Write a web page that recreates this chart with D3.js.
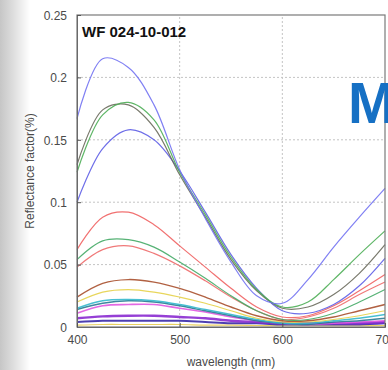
<!DOCTYPE html>
<html>
<head>
<meta charset="utf-8">
<script src="https://cdn.jsdelivr.net/npm/d3@7"></script>
<style>
  body { margin: 0; background: #fff; }
  text { font-family: "Liberation Sans", Arial, sans-serif; }
</style>
</head>
<body>
<div id="vis"></div>
<script>
const W = 388, H = 370;
const margin = { top: 15, right: 3, bottom: 43, left: 77 };

// wavelength samples (nm)
const wavelengths = [400, 425, 450, 475, 500, 525, 550, 575, 600, 625, 650, 675, 700];

// reflectance
const blue1   = [0.167, 0.215, 0.208, 0.178, 0.126, 0.087, 0.052, 0.025, 0.019, 0.038, 0.064, 0.088, 0.111];
const green1  = [0.124, 0.170, 0.180, 0.166, 0.124, 0.090, 0.056, 0.030, 0.016, 0.020, 0.038, 0.058, 0.077];
const gray1   = [0.130, 0.174, 0.178, 0.160, 0.122, 0.088, 0.054, 0.029, 0.015, 0.016, 0.026, 0.043, 0.066];
const blue2   = [0.100, 0.143, 0.158, 0.150, 0.125, 0.092, 0.058, 0.031, 0.013, 0.011, 0.018, 0.033, 0.055];
const red1    = [0.062, 0.088, 0.092, 0.082, 0.065, 0.048, 0.031, 0.016, 0.008, 0.009, 0.017, 0.029, 0.042];
const green2  = [0.054, 0.069, 0.070, 0.064, 0.052, 0.039, 0.025, 0.013, 0.006, 0.006, 0.011, 0.020, 0.030];
const red2    = [0.048, 0.062, 0.065, 0.059, 0.049, 0.037, 0.024, 0.013, 0.006, 0.008, 0.015, 0.026, 0.036];
const brown   = [0.024, 0.035, 0.038, 0.036, 0.031, 0.024, 0.016, 0.009, 0.005, 0.005, 0.008, 0.013, 0.018];
const yellow  = [0.020, 0.028, 0.030, 0.028, 0.024, 0.019, 0.013, 0.007, 0.004, 0.004, 0.006, 0.009, 0.013];
const cyan    = [0.015, 0.021, 0.022, 0.021, 0.018, 0.014, 0.010, 0.006, 0.003, 0.003, 0.005, 0.007, 0.010];
const teal    = [0.014, 0.019, 0.021, 0.020, 0.017, 0.013, 0.009, 0.005, 0.003, 0.002, 0.004, 0.005, 0.007];
const magenta = [0.011, 0.017, 0.018, 0.018, 0.015, 0.012, 0.008, 0.005, 0.003, 0.002, 0.003, 0.004, 0.005];
const purple  = [0.007, 0.0085, 0.009, 0.009, 0.008, 0.007, 0.005, 0.004, 0.003, 0.003, 0.003, 0.003, 0.004];
const indigo  = [0.004, 0.005, 0.005, 0.005, 0.005, 0.004, 0.003, 0.003, 0.002, 0.002, 0.002, 0.002, 0.003];
const pale    = [0.0015, 0.002, 0.002, 0.002, 0.002, 0.0015, 0.0015, 0.0012, 0.001, 0.001, 0.001, 0.001, 0.0012];

const series = [pale, indigo, purple, magenta, teal, cyan, yellow, brown, red2, green2, red1, blue2, gray1, green1, blue1];
const colors = ["#e8cc50", "#3a2aa8", "#8a2ad0", "#e058e0", "#2a7a94", "#34b8cc", "#e6d24a", "#a8502e", "#ee6a6a", "#44aa66", "#f06262", "#5e5ee6", "#6a6a5c", "#4eae56", "#7272f2"];
const widths = [1.2, 2, 2.4, 1.6, 1.4, 1.4, 1.2, 1.4, 1.2, 1.2, 1.2, 1.2, 1.2, 1.2, 1.2];

const yTicks = [0, 0.05, 0.1, 0.15, 0.2, 0.25];
const yTickLabels = ["0", "0.05", "0.1", "0.15", "0.2", "0.25"];
const xTicks = [400, 500, 600, 700];

const svg = d3.select("#vis").append("svg")
    .attr("width", W)
    .attr("height", H);

// grey fade on the left edge
const defs = svg.append("defs");
const grad = defs.append("linearGradient").attr("id", "leftFade");
grad.append("stop").attr("offset", "0%").attr("stop-color", "#c6c6c6");
grad.append("stop").attr("offset", "45%").attr("stop-color", "#dedede");
grad.append("stop").attr("offset", "100%").attr("stop-color", "#ffffff");
svg.append("rect").attr("x", 0).attr("y", 0).attr("width", 30).attr("height", H)
    .attr("fill", "url(#leftFade)");

const x = d3.scaleLinear().domain([400, 700]).range([margin.left, W - margin.right]);
const y = d3.scaleLinear().domain([0, 0.25]).range([H - margin.bottom, margin.top]);

svg.append("rect")
    .attr("x", x(400)).attr("y", y(0.25))
    .attr("width", x(700) - x(400)).attr("height", y(0) - y(0.25))
    .attr("fill", "#fff");

// dotted grid
svg.append("g")
    .selectAll("line")
    .data(yTicks.filter(d => d > 0 && d < 0.25))
    .join("line")
    .attr("x1", x(400)).attr("x2", x(700))
    .attr("y1", d => y(d)).attr("y2", d => y(d))
    .attr("stroke", "#c4c4c4")
    .attr("stroke-dasharray", "2,2");

svg.append("g")
    .selectAll("line")
    .data(xTicks.filter(d => d > 400 && d < 700))
    .join("line")
    .attr("x1", d => x(d)).attr("x2", d => x(d))
    .attr("y1", y(0)).attr("y2", y(0.25))
    .attr("stroke", "#c4c4c4")
    .attr("stroke-dasharray", "2,2");

// curves
const line = d3.line()
    .x((d, i) => x(wavelengths[i]))
    .y(d => y(d))
    .curve(d3.curveCatmullRom.alpha(0.5));

svg.append("g")
    .selectAll("path")
    .data(series)
    .join("path")
    .attr("d", line)
    .attr("fill", "none")
    .attr("stroke", (d, i) => colors[i])
    .attr("stroke-width", (d, i) => widths[i])
    .attr("opacity", 0.9);

// frame
svg.append("rect")
    .attr("x", x(400)).attr("y", y(0.25))
    .attr("width", x(700) - x(400)).attr("height", y(0) - y(0.25))
    .attr("fill", "none")
    .attr("stroke", "#7a7a7a")
    .attr("stroke-width", 1.2);

// axes (ticks inward, MATLAB style)
const yAxis = d3.axisLeft(y)
    .tickValues(yTicks)
    .tickSize(-4)
    .tickPadding(10)
    .tickFormat((d, i) => yTickLabels[i]);

const yg = svg.append("g")
    .attr("transform", `translate(${x(400)},0)`)
    .call(yAxis);

const xAxis = d3.axisBottom(x)
    .tickValues(xTicks)
    .tickSize(-4)
    .tickPadding(10)
    .tickFormat(d3.format("d"));

const xg = svg.append("g")
    .attr("transform", `translate(0,${y(0)})`)
    .call(xAxis);

[yg, xg].forEach(g => {
    g.select(".domain").attr("stroke", "#6a6a6a");
    g.selectAll(".tick line").attr("stroke", "#555");
    g.selectAll(".tick text")
        .attr("fill", "#4a4a4a")
        .style("font-size", "12px");
});
yg.selectAll(".tick text").attr("dy", "0.36em");
xg.selectAll(".tick text").attr("dy", "0.6em");

// labels
svg.append("text")
    .attr("x", (x(400) + x(700)) / 2)
    .attr("y", 366)
    .attr("text-anchor", "middle")
    .attr("fill", "#4a4a4a")
    .style("font-size", "12px")
    .text("wavelength (nm)");

svg.append("text")
    .attr("transform", `translate(34,${(y(0) + y(0.25)) / 2}) rotate(-90)`)
    .attr("text-anchor", "middle")
    .attr("fill", "#4a4a4a")
    .style("font-size", "12px")
    .text("Reflectance factor(%)");

svg.append("text")
    .attr("x", 82)
    .attr("y", 37)
    .attr("fill", "#111")
    .style("font-size", "15px")
    .style("font-weight", "bold")
    .text("WF 024-10-012");

svg.append("text")
    .attr("x", 348)
    .attr("y", 123)
    .attr("fill", "#1670c4")
    .style("font-size", "57px")
    .style("font-weight", "bold")
    .text("M");
</script>
</body>
</html>
